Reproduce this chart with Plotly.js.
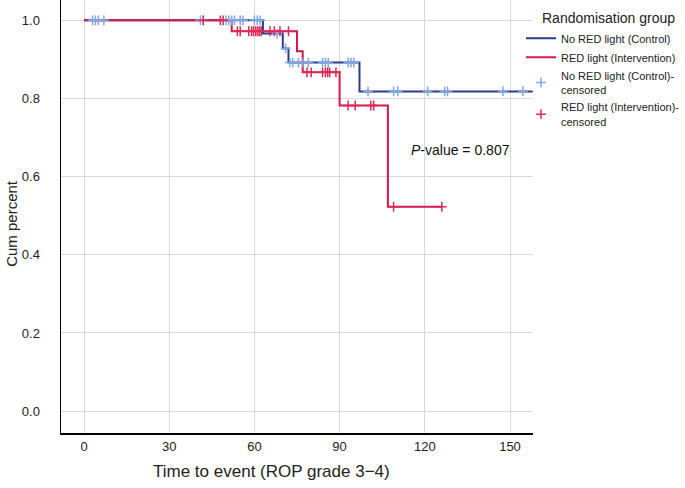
<!DOCTYPE html>
<html><head><meta charset="utf-8">
<script src="https://cdn.plot.ly/plotly-3.0.1.min.js"></script>
<style>html,body{margin:0;padding:0;background:#fff}</style>
</head><body>
<div id="chart" style="width:685px;height:488px"></div>
<script>
// Kaplan-Meier step functions (time, cumulative survival)
const controlStepTimes = [0, 63, 70, 72, 97, 158];
const controlStepSurv  = [1.0, 0.966, 0.928, 0.892, 0.818, 0.818];
const interventionStepTimes = [0, 52, 75, 77, 90, 107, 126];
const interventionStepSurv  = [1.0, 0.972, 0.921, 0.867, 0.782, 0.523, 0.523];

// Censored observation times
const controlCensoredTimes = [3, 4, 5, 7, 41, 42, 50, 51, 52, 53, 55, 56, 60, 61, 62, 68, 71,
  72.5, 73.5, 75.5, 77, 79, 84, 85, 86, 93, 94, 95, 100, 109, 110.5, 121, 127, 128, 147.5, 154.5];
const interventionCensoredTimes = [42, 48, 49, 54, 55, 58, 59, 59.7, 60.5, 61.2, 61.8, 62.4, 65.5, 67, 69, 72,
  78.5, 80, 84, 85, 85.8, 86.5, 88.7, 93, 95.5, 101, 102, 109, 126];

const seriesNames = ['No RED light (Control)', 'RED light (Intervention)',
  'No RED light (Control)-<br>censored', 'RED light (Intervention)-<br>censored'];
const xTicks = [0, 30, 60, 90, 120, 150];
const yTicks = [0.0, 0.2, 0.4, 0.6, 0.8, 1.0];
const yTickText = ['0.0', '0.2', '0.4', '0.6', '0.8', '1.0'];

function survAt(times, surv, t) {
  let s = surv[0];
  for (let i = 0; i < times.length; i++) { if (times[i] <= t) s = surv[i]; }
  return s;
}

const navy = '#2b3d86';
const crimson = '#d4174c';
const lightBlue = '#7ea8e2';
const pinkRed = '#dc2a58';

const traces = [
  {x: controlStepTimes, y: controlStepSurv, mode: 'lines', line: {shape: 'hv', color: navy, width: 2}, name: seriesNames[0]},
  {x: interventionStepTimes, y: interventionStepSurv, mode: 'lines', line: {shape: 'hv', color: crimson, width: 2}, name: seriesNames[1]},
  {x: controlCensoredTimes, y: controlCensoredTimes.map(t => survAt(controlStepTimes, controlStepSurv, t)),
   mode: 'markers', marker: {symbol: 'cross-thin', size: 7, line: {color: lightBlue, width: 1.5}, color: lightBlue}, name: seriesNames[2]},
  {x: interventionCensoredTimes, y: interventionCensoredTimes.map(t => survAt(interventionStepTimes, interventionStepSurv, t)),
   mode: 'markers', marker: {symbol: 'cross-thin', size: 7, line: {color: pinkRed, width: 1.5}, color: pinkRed}, name: seriesNames[3]}
];

const layout = {
  width: 685, height: 488,
  margin: {l: 61, r: 152, t: 0, b: 55},
  paper_bgcolor: '#fff', plot_bgcolor: '#fff',
  font: {family: 'Arial, "Liberation Sans", sans-serif', color: '#222', size: 13},
  showlegend: true,
  legend: {x: 0.975, y: 0.945, xanchor: 'left', yanchor: 'top',
    font: {size: 11}, bgcolor: 'rgba(0,0,0,0)', tracegroupgap: 0},
  xaxis: {range: [-8.1, 158.1], tickvals: xTicks, showgrid: true, gridcolor: '#d9d9d9', gridwidth: 1,
    zeroline: false, showline: true, linecolor: '#000', linewidth: 1.5,
    ticks: 'outside', ticklen: 1, tickcolor: 'rgba(0,0,0,0)', tickfont: {size: 13}},
  yaxis: {range: [-0.056, 1.052], tickvals: yTicks, ticktext: yTickText, showgrid: true, gridcolor: '#d9d9d9', gridwidth: 1,
    zeroline: false, showline: true, linecolor: '#000', linewidth: 1.5,
    ticks: 'outside', ticklen: 17, tickcolor: 'rgba(0,0,0,0)', tickfont: {size: 13}},
  annotations: [
    {x: 132.4, y: 0.6675, xref: 'x', yref: 'y', text: '<i>P</i>-value = 0.807', showarrow: false,
     font: {size: 14, color: '#111'}},
    {x: 1, y: 1, xref: 'paper', yref: 'paper', xanchor: 'left', yanchor: 'middle', xshift: 7, yshift: -18,
     text: 'Randomisation group', showarrow: false, font: {size: 14, color: '#222'}},
    {x: 0.447, y: 0, xref: 'paper', yref: 'paper', xanchor: 'center', yanchor: 'middle', yshift: -38,
     text: 'Time to event (ROP grade 3\u22124)', showarrow: false, font: {size: 17, color: '#222'}},
    {x: 0, y: 0.483, xref: 'paper', yref: 'paper', xanchor: 'center', yanchor: 'middle', xshift: -49,
     text: 'Cum percent', textangle: -90, showarrow: false, font: {size: 15, color: '#222'}}
  ]
};

Plotly.newPlot('chart', traces, layout, {displayModeBar: false, staticPlot: true});
</script>
</body></html>
